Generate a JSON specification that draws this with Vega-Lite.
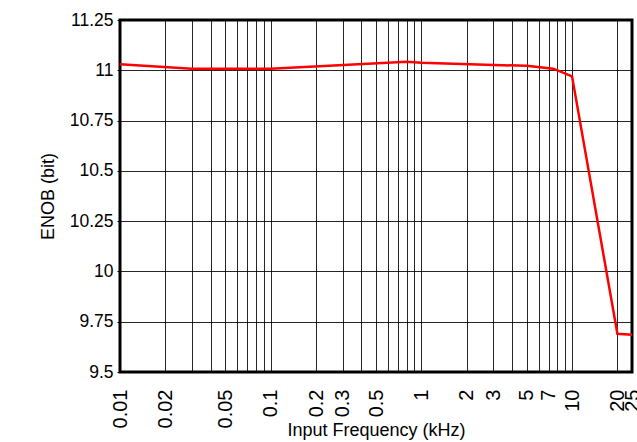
{
  "$schema": "https://vega.github.io/schema/vega-lite/v6.json",
  "autosize": {"type": "none"},
  "width": 512,
  "height": 352,
  "padding": {"left": 120, "top": 20, "right": 5, "bottom": 70},
  "background": "white",
  "data": {"values": [
    {"f": 0.01, "enob": 11.03},
    {"f": 0.03, "enob": 11.008},
    {"f": 0.1, "enob": 11.008},
    {"f": 0.8, "enob": 11.042},
    {"f": 1, "enob": 11.037},
    {"f": 5, "enob": 11.022},
    {"f": 7.5, "enob": 11.008},
    {"f": 10, "enob": 10.97},
    {"f": 20, "enob": 9.69},
    {"f": 25, "enob": 9.685}
  ]},
  "mark": {"type": "line", "color": "#ff0000", "strokeWidth": 2.5, "clip": true},
  "encoding": {
    "x": {
      "field": "f", "type": "quantitative",
      "scale": {"type": "log", "domain": [0.01, 25], "nice": false},
      "axis": {
        "title": "Input Frequency (kHz)",
        "values": [0.01,0.02,0.03,0.04,0.05,0.06,0.07,0.08,0.09,0.1,0.2,0.3,0.4,0.5,0.6,0.7,0.8,0.9,1,2,3,4,5,6,7,8,9,10,20,25],
        "labelExpr": "indexof([0.01,0.02,0.05,0.1,0.2,0.3,0.5,1,2,3,5,7,10,20,25], datum.value) >= 0 ? datum.value + '' : ''",
        "labelAngle": -90,
        "labelAlign": "right",
        "labelBaseline": "middle",
        "labelPadding": 17,
        "labelFontSize": 20,
        "labelOverlap": false,
        "labelFlush": false,
        "ticks": false,
        "grid": true,
        "gridColor": "#000000",
        "gridOpacity": 0.85,
        "gridWidth": 1,
        "domain": false,
        "titlePadding": -6
      }
    },
    "y": {
      "field": "enob", "type": "quantitative",
      "scale": {"domain": [9.5, 11.25], "nice": false, "zero": false},
      "axis": {
        "title": "ENOB (bit)",
        "values": [9.5, 9.75, 10, 10.25, 10.5, 10.75, 11, 11.25],
        "labelExpr": "datum.value + ''",
        "labelFontSize": 17.5,
        "grid": true,
        "gridColor": "#000000",
        "gridOpacity": 0.85,
        "ticks": true,
        "tickSize": 3,
        "tickColor": "#000000",
        "labelPadding": 4,
        "domain": false,
        "titlePadding": 12
      }
    }
  },
  "config": {
    "font": "Liberation Sans",
    "view": {"stroke": "#000000", "strokeWidth": 3},
    "axis": {
      "labelFont": "Liberation Sans",
      "titleFont": "Liberation Sans",
      "titleFontSize": 18,
      "labelColor": "#000000",
      "titleColor": "#000000",
      "titleFontWeight": "normal",
      "labelFontWeight": "normal"
    }
  }
}
